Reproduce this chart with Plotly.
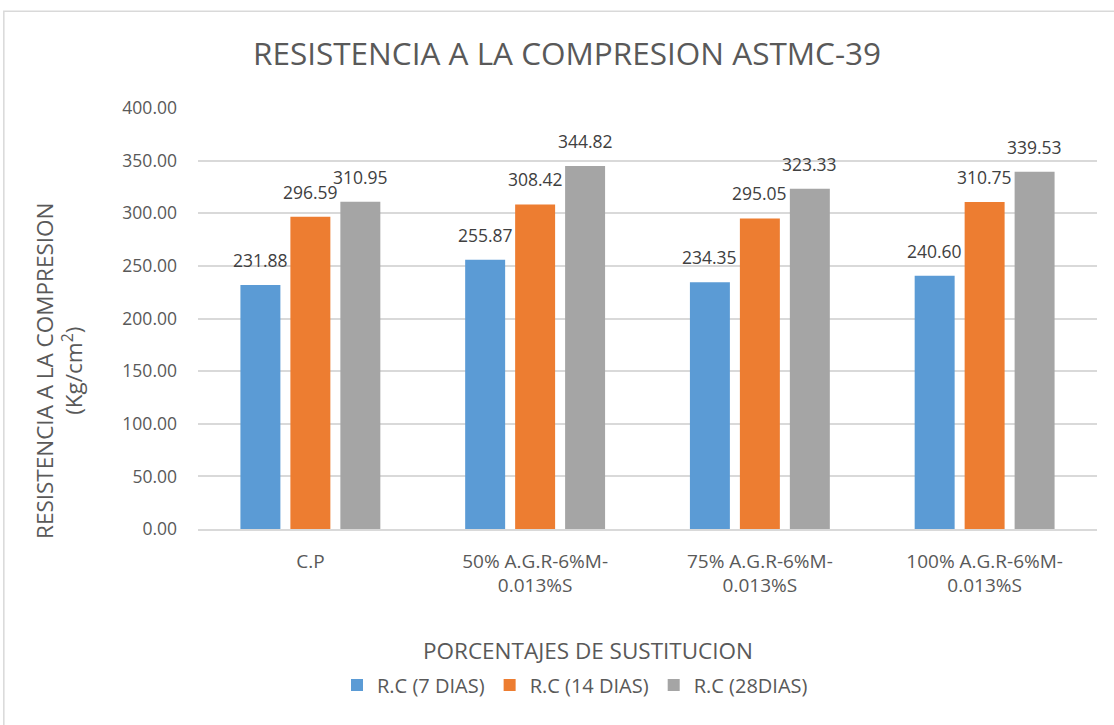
import plotly.graph_objects as go

categories = ["C.P", "50% A.G.R-6%M-<br>0.013%S", "75% A.G.R-6%M-<br>0.013%S", "100% A.G.R-6%M-<br>0.013%S"]
rc_7 = [231.88, 255.87, 234.35, 240.60]
rc_14 = [296.59, 308.42, 295.05, 310.75]
rc_28 = [310.95, 344.82, 323.33, 339.53]
y_ticks = [0, 50, 100, 150, 200, 250, 300, 350, 400]

FONT = "Open Sans, Liberation Sans, sans-serif"
GREY_TEXT = "#595959"
series = [
    ("R.C (7 DIAS)", rc_7, "#5B9BD5", -50),
    ("R.C (14 DIAS)", rc_14, "#ED7D31", 0),
    ("R.C (28DIAS)", rc_28, "#A5A5A5", 50),
]

fig = go.Figure()
annotations = []
for name, vals, color, dx in series:
    fig.add_trace(go.Bar(
        name=name, x=categories, y=vals,
        marker=dict(color=color, line=dict(width=0)),
    ))
    # value labels above each bar
    for cat, v in zip(categories, vals):
        annotations.append(dict(
            x=cat, y=v, xref="x", yref="y", text=f"{v:.2f}", showarrow=False,
            xshift=dx, yshift=25, xanchor="center", yanchor="middle",
            font=dict(size=17.5, color="#404040", family=FONT),
        ))

# axis titles
annotations.append(dict(
    text="PORCENTAJES DE SUSTITUCION", xref="paper", yref="paper",
    x=(588 - 198) / 899, y=(529 - 650) / 421, showarrow=False,
    xanchor="center", yanchor="middle",
    font=dict(size=22.5, color=GREY_TEXT, family=FONT),
))
annotations.append(dict(
    text="RESISTENCIA A LA COMPRESION<br>(Kg/cm<sup>2</sup>)", xref="paper", yref="paper",
    x=(59 - 198) / 899, y=(529 - 371) / 421, showarrow=False, textangle=-90,
    xanchor="center", yanchor="middle",
    font=dict(size=22.5, color=GREY_TEXT, family=FONT),
))

fig.update_layout(
    width=1114, height=725,
    margin=dict(l=198, r=17, t=108, b=196),
    paper_bgcolor="white", plot_bgcolor="white",
    barmode="group", bargap=0.333, bargroupgap=0.2,
    font=dict(family=FONT, color=GREY_TEXT),
    title=dict(text="RESISTENCIA A LA COMPRESION ASTMC-39",
               x=0.509, xanchor="center", y=0.925, yanchor="middle",
               font=dict(size=31.5, color=GREY_TEXT, family=FONT)),
    xaxis=dict(
        tickfont=dict(size=19, color=GREY_TEXT),
        showline=True, linecolor="#D9D9D9", linewidth=1.5,
        ticks="", showgrid=False, ticklabelstandoff=14,
    ),
    yaxis=dict(
        range=[0, 400], tickvals=y_ticks, ticktext=[f"{v:.2f}" for v in y_ticks],
        tickfont=dict(size=17.5, color=GREY_TEXT),
        showgrid=True, gridcolor="#D9D9D9", gridwidth=1.5,
        zeroline=False, ticks="", ticklabelstandoff=20,
    ),
    legend=dict(orientation="h", x=(575 - 198) / 899, xanchor="center",
                y=(529 - 685) / 421, yanchor="middle",
                font=dict(size=20, color=GREY_TEXT), traceorder="normal"),
    annotations=annotations,
    shapes=[dict(type="rect", xref="paper", yref="paper",
                 x0=-0.216, x1=1.05, y0=-0.5, y1=1.23,
                 line=dict(color="#D9D9D9", width=1.5), layer="below")],
)

fig.write_html("out.html")
